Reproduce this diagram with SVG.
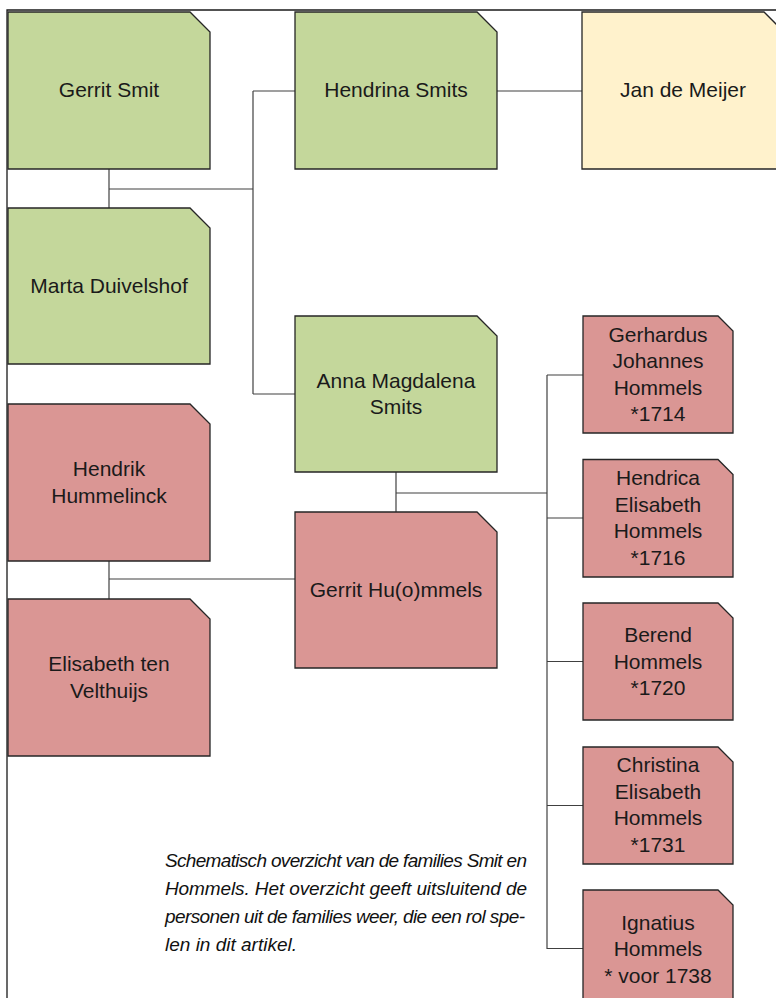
<svg xmlns="http://www.w3.org/2000/svg" width="776" height="998" viewBox="0 0 776 998">
<style>
.n{stroke:#262626;stroke-width:1.3}
.g{fill:#C4D79B}
.r{fill:#DA9694}
.y{fill:#FFF2CC}
.t{font-family:"Liberation Sans",Arial,sans-serif;font-size:21px;fill:#1a1a1a;text-anchor:middle}
.c{fill:none;stroke:#404040;stroke-width:1.2}
.cap{font-family:"Liberation Sans",Arial,sans-serif;font-size:19px;font-style:italic;fill:#111}
</style>
<rect width="776" height="998" fill="#fff"/>
<path d="M7,998 V10 H776" fill="none" stroke="#1a1a1a" stroke-width="1.3"/>
<g id="connectors" class="c">
<path d="M109,169 V208"/>
<path d="M109,189 H253"/>
<path d="M253,91 V394"/>
<path d="M253,91 H295"/>
<path d="M253,394 H295"/>
<path d="M497,91 H582"/>
<path d="M396,472 V512"/>
<path d="M396,493 H547"/>
<path d="M547,375 V949"/>
<path d="M547,375 H583"/>
<path d="M547,518 H583"/>
<path d="M547,661.5 H583"/>
<path d="M547,805.5 H583"/>
<path d="M547,948.5 H583"/>
<path d="M109,561 V599"/>
<path d="M109,579 H295"/>
</g>
<g id="gerrit-smit"><path class="n g" d="M8,12 H190 L210,32 V169 H8 Z"/><text class="t" x="109" y="97">Gerrit Smit</text></g>
<g id="hendrina-smits"><path class="n g" d="M295,12 H477 L497,32 V169 H295 Z"/><text class="t" x="396" y="97">Hendrina Smits</text></g>
<g id="jan-de-meijer"><path class="n y" d="M582,12 H764 L784,32 V169 H582 Z"/><text class="t" x="683" y="97">Jan de Meijer</text></g>
<g id="marta-duivelshof"><path class="n g" d="M8,208 H190 L210,228 V364 H8 Z"/><text class="t" x="109" y="293">Marta Duivelshof</text></g>
<g id="anna-magdalena-smits"><path class="n g" d="M295,316 H477 L497,336 V472 H295 Z"/><text class="t" x="396" y="387.5">Anna Magdalena</text><text class="t" x="396" y="414">Smits</text></g>
<g id="hendrik-hummelinck"><path class="n r" d="M8,404 H190 L210,424 V561 H8 Z"/><text class="t" x="109" y="476">Hendrik</text><text class="t" x="109" y="502.5">Hummelinck</text></g>
<g id="elisabeth-ten-velthuijs"><path class="n r" d="M8,599 H190 L210,619 V756 H8 Z"/><text class="t" x="109" y="671">Elisabeth ten</text><text class="t" x="109" y="697.5">Velthuijs</text></g>
<g id="gerrit-huommels"><path class="n r" d="M295,512 H477 L497,532 V668 H295 Z"/><text class="t" x="396" y="597">Gerrit Hu(o)mmels</text></g>
<g id="gerhardus"><path class="n r" d="M583,316 H718 L733,331 V433 H583 Z"/><text class="t" x="658" y="341.75">Gerhardus</text><text class="t" x="658" y="368.25">Johannes</text><text class="t" x="658" y="394.75">Hommels</text><text class="t" x="658" y="421.25">*1714</text></g>
<g id="hendrica"><path class="n r" d="M583,459.5 H718 L733,474.5 V577 H583 Z"/><text class="t" x="658" y="485.25">Hendrica</text><text class="t" x="658" y="511.75">Elisabeth</text><text class="t" x="658" y="538.25">Hommels</text><text class="t" x="658" y="564.75">*1716</text></g>
<g id="berend"><path class="n r" d="M583,603 H718 L733,618 V720 H583 Z"/><text class="t" x="658" y="642">Berend</text><text class="t" x="658" y="668.5">Hommels</text><text class="t" x="658" y="695">*1720</text></g>
<g id="christina"><path class="n r" d="M583,747 H718 L733,762 V864 H583 Z"/><text class="t" x="658" y="772.25">Christina</text><text class="t" x="658" y="798.75">Elisabeth</text><text class="t" x="658" y="825.25">Hommels</text><text class="t" x="658" y="851.75">*1731</text></g>
<g id="ignatius"><path class="n r" d="M583,890 H718 L733,905 V1007 H583 Z"/><text class="t" x="658" y="929.5">Ignatius</text><text class="t" x="658" y="956">Hommels</text><text class="t" x="658" y="982.5">* voor 1738</text></g>
<g id="caption">
<text class="cap" x="165" y="867" textLength="362" lengthAdjust="spacing">Schematisch overzicht van de families Smit en</text>
<text class="cap" x="165" y="895" textLength="362" lengthAdjust="spacing">Hommels. Het overzicht geeft uitsluitend de</text>
<text class="cap" x="165" y="923" textLength="360" lengthAdjust="spacing">personen uit de families weer, die een rol spe-</text>
<text class="cap" x="165" y="951">len in dit artikel.</text>
</g>
</svg>
